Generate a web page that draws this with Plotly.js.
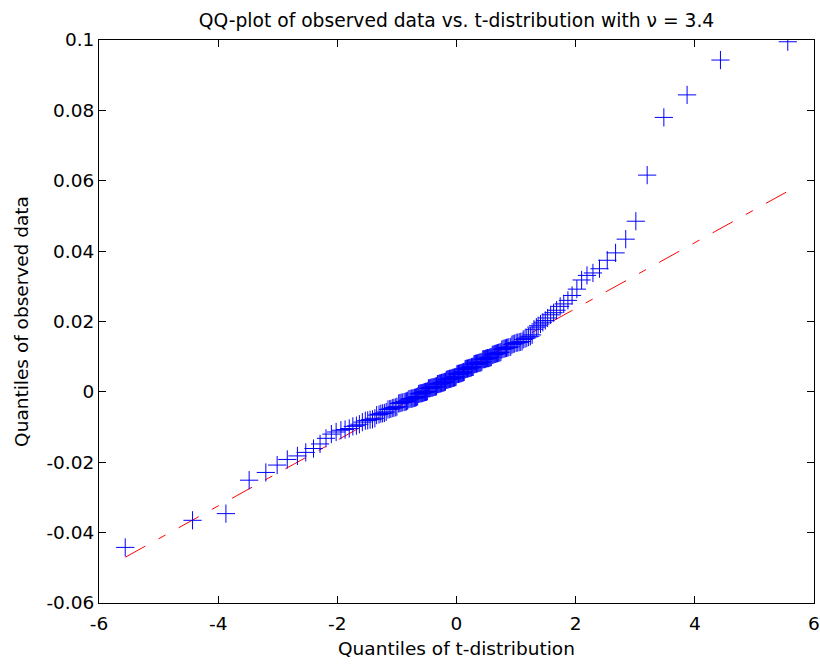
<!DOCTYPE html>
<html>
<head>
<meta charset="utf-8">
<script src="https://cdn.plot.ly/plotly-3.0.1.min.js"></script>
<style>html,body{margin:0;padding:0;background:#fff;}#chart{width:820px;height:664px;}</style>
</head>
<body>
<div id="chart"></div>
<script>
// Theoretical t-distribution quantiles (x)
var tQuantiles = [
-5.56,-4.43,-3.87,-3.48,-3.20,-3.01,-2.84,-2.67,-2.53,-2.40,
-2.29,-2.19,-2.10,-2.02,-1.94,-1.87,-1.80,-1.74,-1.68,-1.63,
-1.58,-1.53,-1.49,-1.45,-1.41,-1.37,-1.34,-1.30,-1.27,-1.24,
-1.21,-1.18,-1.15,-1.12,-1.10,-1.07,-1.05,-1.02,-1.00,-0.97,
-0.95,-0.93,-0.91,-0.88,-0.86,-0.84,-0.82,-0.80,-0.78,-0.76,
-0.745,-0.727,-0.707,-0.689,-0.670,-0.652,-0.635,-0.617,-0.600,-0.584,
-0.568,-0.551,-0.535,-0.520,-0.505,-0.488,-0.472,-0.456,-0.440,-0.425,
-0.409,-0.394,-0.379,-0.364,-0.350,-0.335,-0.321,-0.307,-0.293,-0.280,
-0.266,-0.253,-0.241,-0.227,-0.213,-0.199,-0.185,-0.171,-0.157,-0.144,
-0.130,-0.116,-0.103,-0.089,-0.075,-0.062,-0.048,-0.034,-0.021,-0.007,
0.007,0.021,0.034,0.048,0.062,0.075,0.089,0.103,0.116,0.130,
0.144,0.157,0.171,0.185,0.199,0.213,0.227,0.241,0.253,0.266,
0.280,0.293,0.307,0.321,0.335,0.350,0.364,0.379,0.394,0.409,
0.425,0.440,0.456,0.472,0.488,0.505,0.520,0.535,0.551,0.568,
0.584,0.600,0.617,0.635,0.652,0.670,0.689,0.707,0.727,0.745,
0.76,0.78,0.80,0.82,0.84,0.86,0.88,0.91,0.93,0.95,
0.97,1.00,1.02,1.05,1.07,1.10,1.12,1.15,1.18,1.21,
1.24,1.27,1.30,1.34,1.37,1.41,1.45,1.49,1.53,1.58,
1.63,1.68,1.74,1.80,1.87,1.94,2.02,2.10,2.19,2.29,
2.40,2.53,2.67,2.84,3.01,3.20,3.48,3.87,4.43,5.56
];
var observedQuantiles = [
-0.0442,-0.0365,-0.0346,-0.0251,-0.0229,-0.0208,-0.0192,-0.0182,-0.0172,-0.0161,
-0.0148,-0.0132,-0.0120,-0.0114,-0.0109,-0.0107,-0.0104,-0.0098,-0.0096,-0.0092,
-0.0086,-0.0082,-0.0081,-0.0079,-0.0078,-0.0075,-0.0066,-0.0064,-0.0062,-0.0061,
-0.0060,-0.0057,-0.0050,-0.0049,-0.0048,-0.0046,-0.0045,-0.0044,-0.0042,-0.0033,
-0.0032,-0.0031,-0.0030,-0.0029,-0.0028,-0.0027,-0.0025,-0.0021,-0.0020,-0.0019,
-0.0019,-0.0018,-0.0017,-0.0016,-0.0015,-0.0013,-0.0006,-0.0005,-0.0004,-0.0004,
-0.0003,-0.0002,-0.0001,0.0000,0.0000,0.0002,0.0010,0.0010,0.0011,0.0012,
0.0012,0.0013,0.0014,0.0014,0.0015,0.0016,0.0022,0.0022,0.0023,0.0024,
0.0024,0.0025,0.0026,0.0026,0.0027,0.0028,0.0029,0.0034,0.0035,0.0035,
0.0036,0.0037,0.0037,0.0038,0.0039,0.0040,0.0040,0.0041,0.0042,0.0043,
0.0050,0.0051,0.0051,0.0052,0.0053,0.0053,0.0054,0.0055,0.0056,0.0057,
0.0064,0.0065,0.0066,0.0066,0.0067,0.0068,0.0068,0.0069,0.0070,0.0071,
0.0071,0.0078,0.0079,0.0080,0.0080,0.0081,0.0082,0.0083,0.0083,0.0084,
0.0085,0.0092,0.0093,0.0093,0.0094,0.0095,0.0096,0.0096,0.0097,0.0098,
0.0099,0.0105,0.0106,0.0107,0.0108,0.0109,0.0110,0.0111,0.0112,0.0113,
0.0120,0.0122,0.0123,0.0124,0.0125,0.0126,0.0127,0.0128,0.0134,0.0136,
0.0137,0.0139,0.0140,0.0141,0.0142,0.0143,0.0149,0.0151,0.0153,0.0156,
0.0158,0.0162,0.0178,0.0184,0.0188,0.0193,0.0198,0.0203,0.0210,0.0219,
0.0225,0.0232,0.0243,0.0250,0.0260,0.0274,0.0292,0.0318,0.0331,0.0338,
0.0350,0.0374,0.0395,0.0434,0.0485,0.0616,0.0780,0.0844,0.0943,0.0995
];
// Reference line (extended, dash-dot) and its central solid part
var refLineX = [-5.56, 5.56];
var refLineY = [-0.047, 0.057];
var refSolidX = [-0.76, 0.76];
var refSolidY = [-0.0021, 0.0121];
// Tick labels
var xTickVals = [-6,-4,-2,0,2,4,6];
var xTickText = ["-6","-4","-2","0","2","4","6"];
var yTickVals = [-0.06,-0.04,-0.02,0,0.02,0.04,0.06,0.08,0.1];
var yTickText = ["-0.06","-0.04","-0.02","0","0.02","0.04","0.06","0.08","0.1"];

var FONT = "DejaVu Sans, Liberation Sans, Arial, sans-serif";

var traces = [
  {x: refLineX, y: refLineY, type: "scatter", mode: "lines",
   line: {color: "#ff0000", width: 1, dash: "23px,15px,8px,15px"}, hoverinfo: "skip"},
  {x: refSolidX, y: refSolidY, type: "scatter", mode: "lines",
   line: {color: "#ff0000", width: 1}, hoverinfo: "skip"},
  {x: tQuantiles, y: observedQuantiles, type: "scatter", mode: "markers",
   marker: {symbol: "cross-thin", size: 13, color: "#0000ff", line: {color: "#0000ff", width: 1}}}
];

var axisCommon = {
  showgrid: false, zeroline: false, showline: true, linecolor: "#000", linewidth: 1,
  mirror: "ticks", ticks: "inside", ticklen: 7, tickcolor: "#000", tickwidth: 1,
  tickfont: {family: FONT, size: 18.5, color: "#000"}
};

var layout = {
  width: 820, height: 664,
  margin: {l: 99, r: 6, t: 40, b: 61},
  paper_bgcolor: "#fff", plot_bgcolor: "#fff",
  showlegend: false,
  title: {text: "QQ-plot of observed data vs. t-distribution with ν = 3.4",
          font: {family: FONT, size: 18.7, color: "#000"},
          xref: "paper", x: 0.5, xanchor: "center",
          yref: "container", y: 0.969, yanchor: "middle"},
  xaxis: Object.assign({}, axisCommon, {
    range: [-6, 6], tickmode: "array", tickvals: xTickVals, ticktext: xTickText,
    ticklabelstandoff: 4,
    title: {text: "Quantiles of t-distribution", font: {family: FONT, size: 18.5, color: "#000"}, standoff: 8}
  }),
  yaxis: Object.assign({}, axisCommon, {
    range: [-0.06, 0.1], tickmode: "array", tickvals: yTickVals, ticktext: yTickText,
    title: {text: "Quantiles of observed data", font: {family: FONT, size: 18.5, color: "#000"}, standoff: 12}
  })
};

Plotly.newPlot("chart", traces, layout, {displayModeBar: false, staticPlot: true});
</script>
</body>
</html>
